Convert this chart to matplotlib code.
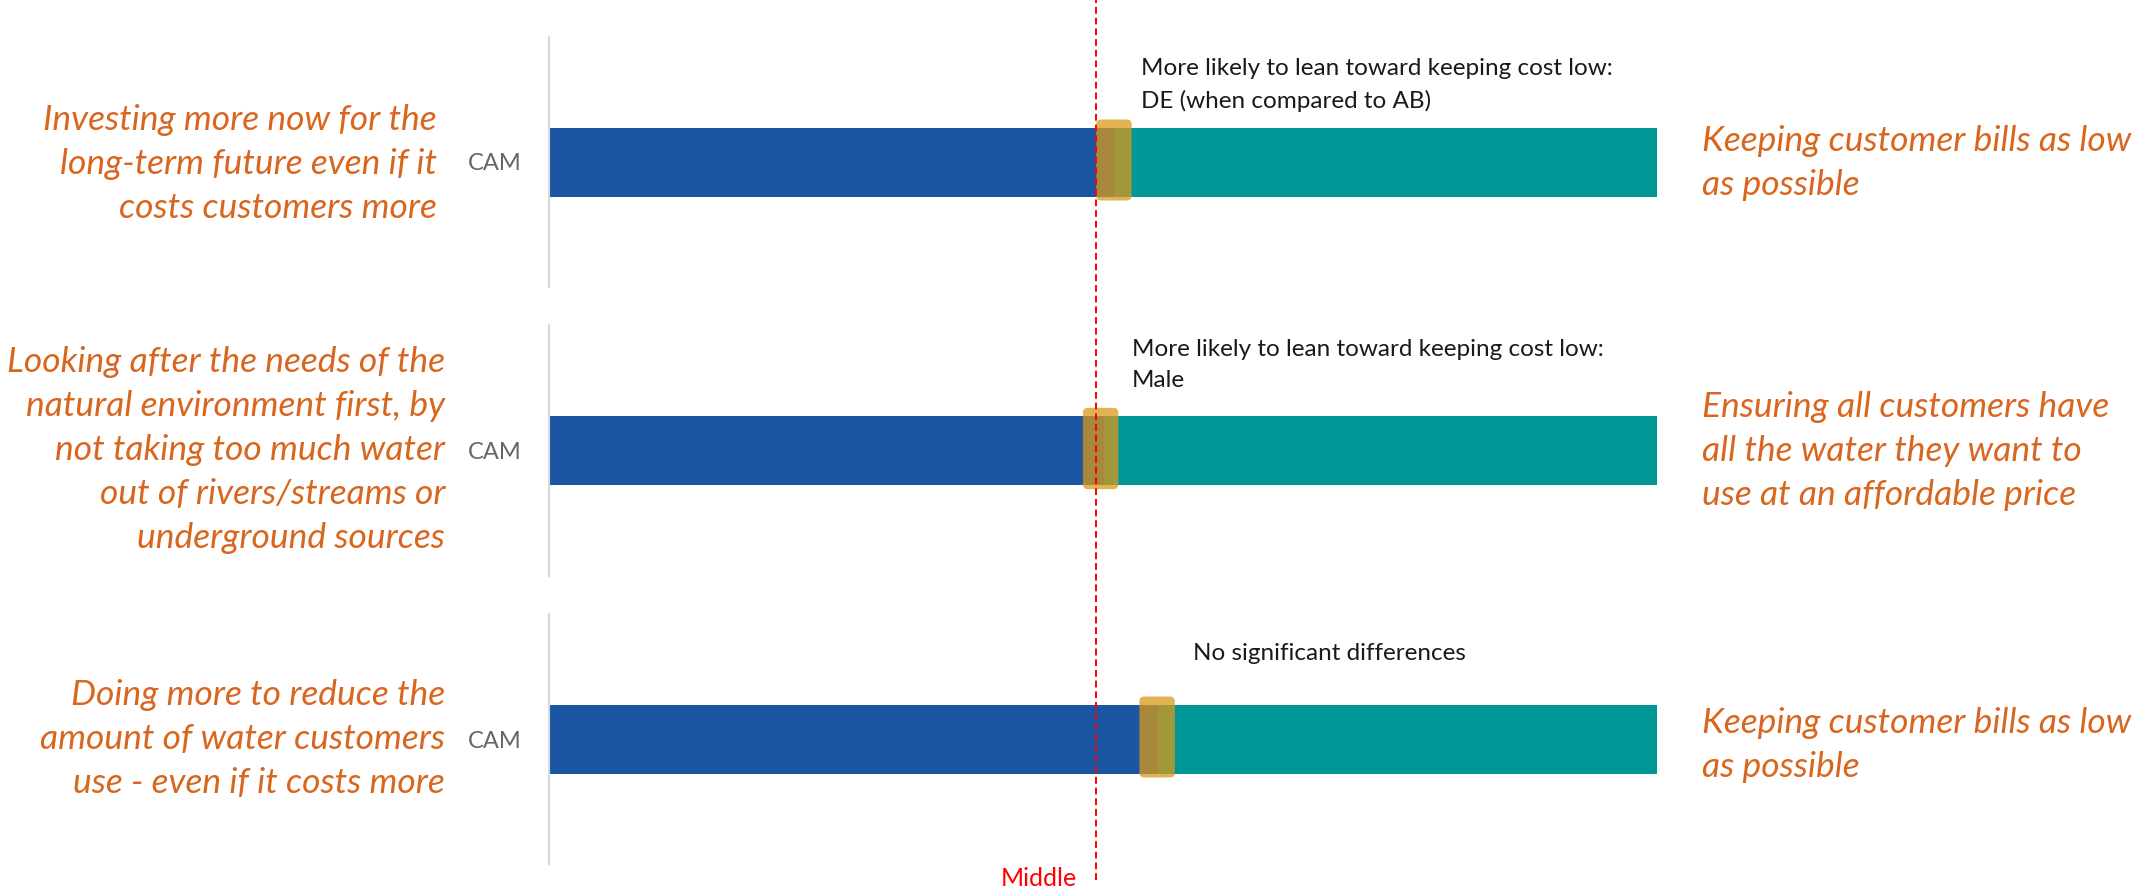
import matplotlib
matplotlib.use("Agg")
import matplotlib.pyplot as plt
from matplotlib.patches import FancyBboxPatch
from matplotlib.lines import Line2D
import matplotlib.transforms as mtransforms

plt.rcParams['font.family'] = ['Lato', 'DejaVu Sans']

# data
left_statements = [
    "Investing more now for the\nlong-term future even if it\ncosts customers more",
    "Looking after the needs of the\nnatural environment first, by\nnot taking too much water\nout of rivers/streams or\nunderground sources",
    "Doing more to reduce the\namount of water customers\nuse - even if it costs more",
]
right_statements = [
    "Keeping customer bills as low\nas possible",
    "Ensuring all customers have\nall the water they want to\nuse at an affordable price",
    "Keeping customer bills as low\nas possible",
]
groups = ["CAM", "CAM", "CAM"]
left_share = [51.0, 50.1, 55.0]      # % leaning to the left statement
marker_pos = [51.0, 49.8, 54.9]      # highlighted score
notes = [
    "More likely to lean toward keeping cost low:\nDE (when compared to AB)",
    "More likely to lean toward keeping cost low:\nMale",
    "No significant differences",
]
middle = 49.4

# colours / layout
blue = '#1B56A3'
teal = '#009696'
gold = '#D99A1A'
orange = '#D9661F'
W, H = 2134, 893

panel_px = [(37, 287), (325, 576), (614, 864)]   # top, bottom in pixels
left_lab_x = [437, 445, 445]
left_lab_y = [164, 450, 739]
right_lab_y = [163, 451, 745]
note_y = [0.808, 0.841, 0.844]
note_dx = [2.4, 2.8, 3.2]

fig = plt.figure(figsize=(W / 100, H / 100), dpi=100)

axes = []
for i in range(3):
    top, bot = panel_px[i]
    ax = fig.add_axes([549 / W, 1 - bot / H, 1107.7 / W, (bot - top) / H])
    axes.append(ax)
    ax.barh(0, left_share[i], height=0.276, color=blue, left=0)
    ax.barh(0, 100 - left_share[i], height=0.276, color=teal, left=left_share[i])
    mw = 3.2
    mh = 0.324
    box = FancyBboxPatch((marker_pos[i] - mw / 2, -mh / 2 + 0.008), mw, mh,
                         boxstyle="round,pad=0,rounding_size=0.45",
                         mutation_aspect=0.0443,
                         facecolor=gold, edgecolor='none', alpha=0.75, zorder=3)
    ax.add_patch(box)
    ax.set_xlim(0, 100)
    ax.set_ylim(-0.5, 0.5)
    ax.set_yticks([0])
    ax.set_yticklabels([groups[i]], fontsize=17, color='#666666')
    ax.tick_params(axis='y', length=0, pad=20)
    ax.set_xticks([])
    for s in ['top', 'right', 'bottom']:
        ax.spines[s].set_visible(False)
    ax.spines['left'].set_color('#D9D9D9')
    ax.spines['left'].set_linewidth(1.5)

    ax.text(marker_pos[i] + note_dx[i], note_y[i] - 0.5, notes[i], fontsize=17.5,
            color='#1A1A1A', ha='left', va='center', linespacing=1.55)

    fig.text(left_lab_x[i] / W, 1 - left_lab_y[i] / H, left_statements[i],
             fontsize=25.5, style='italic', color=orange, ha='right', va='center',
             multialignment='right', linespacing=1.47)
    fig.text(1702 / W, 1 - right_lab_y[i] / H, right_statements[i],
             fontsize=25.5, style='italic', color=orange, ha='left', va='center',
             multialignment='left', linespacing=1.47)

# middle reference line through all panels
blend = mtransforms.blended_transform_factory(axes[0].transData, fig.transFigure)
fig.add_artist(Line2D([middle, middle], [1 - 880 / H, 1.0], transform=blend,
                      color='#FF0000', linewidth=1.4, dashes=(3.5, 2)))
fig.text(1077 / W, 1 - 878 / H, "Middle", fontsize=18, color='#FF0000',
         ha='right', va='center')

fig.savefig('out.png', dpi=100)
